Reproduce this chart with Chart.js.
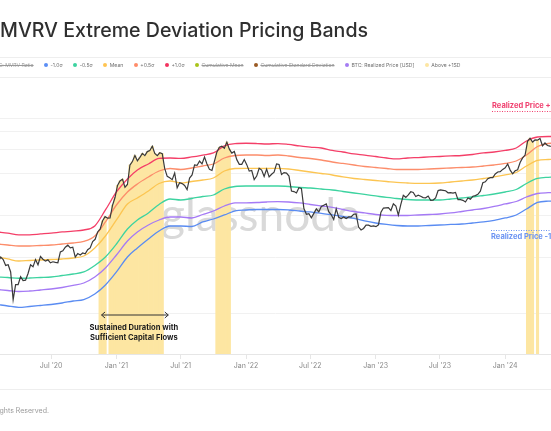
<!DOCTYPE html>
<html>
<head>
<meta charset="utf-8">
<title>MVRV Extreme Deviation Pricing Bands</title>
<script src="https://cdn.jsdelivr.net/npm/chart.js@4.4.1/dist/chart.umd.min.js"></script>
<style>
  html, body { margin: 0; padding: 0; background: #fff; }
  body { position: relative; width: 551px; height: 431px; overflow: hidden; font-family: Inter, "Noto Sans", sans-serif; }
  #chart { position: absolute; left: 0; top: 0; }
  #title { position: absolute; top: 21px; left: 0; font-size: 19.6px; line-height: 19px; font-weight: 500; color: #2f2f2f; white-space: nowrap; }
  .rule { position: absolute; left: 0; width: 551px; height: 1px; background: #eeeeee; }
  #legend { position: absolute; top: 60px; left: 0; height: 9px; display: flex; align-items: center; white-space: nowrap; font-size: 5.1px; color: #6f6f6f; }
  #legend .item { display: flex; align-items: center; margin-right: 10.5px; }
  #legend .dot { width: 4px; height: 4px; border-radius: 50%; margin-right: 2.5px; }
  #legend .off .lbl { text-decoration: line-through; color: #9a9a9a; }
  #footer { position: absolute; right: 502px; top: 406px; font-size: 7px; color: #9a9a9a; white-space: nowrap; }
</style>
</head>
<body>
<canvas id="chart" width="551" height="431"></canvas>
<div id="title"><span id="title-pre">BTC: </span>MVRV Extreme Deviation Pricing Bands</div>
<div class="rule" style="top:57px"></div>
<div id="legend"></div>
<div class="rule" style="top:77px"></div>
<div class="rule" style="top:389px"></div>
<div id="footer">© 2024 Glassnode. All Rights Reserved.</div>
<script>
// Weekly BTC price (USD), one value per Monday starting priceStart
const priceStart = '2020-02-03';
const priceWeekly = [
  // 2020
  9300, 10100, 9700, 8800, 8900, 7900, 5000, 6400, 6400, 7300, 6850, 6900, 7700,
  8900, 8600, 9700, 8900, 10200, 9750, 9450, 9650, 9180, 9350, 9250, 9200, 11000,
  11200, 11900, 12300, 11750, 11900, 10100, 10700, 10450, 10800, 10650, 11400, 11750, 13050,
  13550, 15300, 16000, 18400, 19700, 19200, 19250, 23800, 27000,
  // 2021
  33000, 35500, 36600, 32000, 33500, 46200, 49000, 54000, 49500, 52400, 56000, 54000, 57700,
  58700, 63000, 56000, 54000, 56600, 55800, 43500, 38300, 37400, 36300, 40500, 31700, 34500,
  34000, 33000, 30800, 37300, 39200, 46300, 45900, 49300, 47100, 52700, 47000, 43000, 42200,
  49200, 57400, 62000, 63000, 61000, 67500, 60100, 56300, 57800, 50500, 46700, 46700, 50600,
  // 2022
  46500, 41800, 42200, 36300, 38500, 43800, 42500, 38300, 43200, 38000, 39700, 41000, 47100,
  46600, 39500, 40800, 40400, 38500, 30100, 29800, 29100, 31800, 31400, 22500, 20500, 20700,
  19300, 20800, 22400, 21300, 23300, 23800, 24300, 21400, 20300, 18800, 22400, 19500, 19100,
  19600, 19100, 19600, 19600, 20500, 20600, 16600, 15800, 16200, 17100, 17100, 16800, 16900,
  // 2023
  16700, 17200, 21200, 22700, 22800, 22900, 21800, 24400, 23500, 20200, 24100, 28000, 27100,
  28200, 29700, 29400, 27500, 28100, 27600, 27000, 26900, 27700, 25800, 25900, 26800, 30300,
  30600, 30400, 30200, 29200, 29300, 29100, 29400, 26100, 26100, 25800, 25100, 26800, 26300,
  27600, 27900, 28500, 30000, 34500, 35000, 36900, 37500, 37500, 39900, 41200, 41400, 43000,
  // 2024
  44200, 47000, 42500, 40000, 42000, 42700, 48200, 52000, 54500, 68300, 72000, 67600, 69900,
  69700, 71600, 63500, 66500, 63800, 63100, 62900
];

// Monthly band values (USD), first of each month
const bandMonths = [
  '2020-02', '2020-03', '2020-04', '2020-05', '2020-06', '2020-07', '2020-08', '2020-09', '2020-10', '2020-11', '2020-12',
  '2021-01', '2021-02', '2021-03', '2021-04', '2021-05', '2021-06', '2021-07', '2021-08', '2021-09', '2021-10', '2021-11', '2021-12',
  '2022-01', '2022-02', '2022-03', '2022-04', '2022-05', '2022-06', '2022-07', '2022-08', '2022-09', '2022-10', '2022-11', '2022-12',
  '2023-01', '2023-02', '2023-03', '2023-04', '2023-05', '2023-06', '2023-07', '2023-08', '2023-09', '2023-10', '2023-11', '2023-12',
  '2024-01', '2024-02', '2024-03', '2024-04', '2024-05', '2024-06'
];
const plusOneSd = [
  15300, 15000, 14600, 14600, 14800, 15000, 15300, 15500, 15800, 16900, 22000,
  29600, 36700, 42600, 47000, 51500, 51900, 51500, 52800, 54500, 56400, 63300, 65900,
  66200, 65900, 65400, 65900, 64900, 63300, 62200, 61200, 58800, 57300, 55500, 54500,
  53200, 51900, 51100, 51900, 52300, 52800, 53200, 53700, 54100, 55000, 56400, 57300,
  58800, 61200, 68700, 73400, 74000, 74000
];
const plusHalfSd = [
  12540, 12330, 12130, 12130, 12230, 12330, 12540, 12750, 13070, 14310, 18040,
  23880, 29600, 33790, 37930, 41880, 43640, 42920, 44000, 45480, 47000, 51900, 54080,
  54540, 54540, 54080, 54540, 53650, 52340, 51470, 50220, 48590, 47410, 46240, 45110,
  44370, 43640, 42920, 42920, 42920, 43280, 43640, 44000, 44370, 44730, 45480, 46240,
  47410, 49400, 54540, 62760, 65940, 66490
];
const meanBand = [
  10120, 9790, 9470, 9550, 9630, 9710, 9790, 9950, 10280, 11740, 14310,
  18640, 24280, 26810, 30100, 34070, 35500, 34350, 35210, 36090, 37300, 41880, 43640,
  43780, 43780, 43640, 43780, 43280, 42220, 41190, 40180, 39200, 37930, 36990, 36390,
  35790, 35210, 34640, 34350, 34180, 34180, 34350, 34920, 35500, 36090, 36990, 37930,
  39200, 40850, 45480, 49810, 50630, 51050
];
const minusHalfSd = [
  7270, 7210, 7120, 7150, 7210, 7270, 7450, 7640, 7900, 8790, 10120,
  12540, 16060, 18640, 20930, 24080, 26370, 25940, 26590, 27480, 28170, 31100, 32420,
  32680, 32680, 32680, 32680, 32420, 31890, 31620, 31100, 30600, 29850, 29120, 28410,
  27720, 27040, 26590, 26150, 25940, 25940, 25940, 26370, 26810, 27250, 27940, 28640,
  29600, 30850, 34070, 36990, 37740, 37930
];
const realizedPrice = [
  5915, 5817, 5721, 5769, 5866, 5964, 6113, 6319, 6585, 7270, 8436,
  10460, 13180, 15290, 17160, 18640, 19590, 19590, 19270, 20410, 21630, 23490, 24690,
  24770, 24890, 25100, 25220, 25100, 24690, 24080, 23490, 22920, 22170, 21450, 20930,
  20410, 20150, 20080, 20080, 20250, 20410, 20580, 20930, 21450, 21990, 22540, 23300,
  24280, 25300, 27250, 28870, 29260, 29360
];
const minusOneSd = [
  4617, 4504, 4408, 4467, 4541, 4617, 4732, 4892, 5012, 5490, 6371,
  7900, 10120, 11740, 13620, 15540, 16880, 16880, 16740, 18040, 18950, 20250, 21630,
  21990, 22170, 22170, 22170, 21990, 21630, 21280, 20760, 20250, 19750, 19110, 18340,
  17740, 17310, 17020, 16880, 16880, 17020, 17160, 17310, 17450, 17740, 18040, 18490,
  19270, 20250, 22360, 24890, 25430, 25510
];

// Weeks where price sat above the +1 SD band
const aboveRanges = [
  ['2020-11-16', '2020-11-30'],
  ['2020-12-14', '2021-05-10'],
  ['2021-10-11', '2021-11-15'],
  ['2024-03-04', '2024-03-18'],
  ['2024-04-01', '2024-04-01']
];

const tickDates = ['2020-07-01', '2021-01-01', '2021-07-01', '2022-01-01', '2022-07-01', '2023-01-01', '2023-07-01', '2024-01-01'];
const tickLabels = ["Jul '20", "Jan '21", "Jul '21", "Jan '22", "Jul '22", "Jan '23", "Jul '23", "Jan '24"];
const yGridValues = [4000, 10000, 20000, 40000, 60000, 80000, 100000];
const viewStart = '2020-02-08';
const viewEnd = '2024-05-09';
const yMin = 2038;
const yMax = 188200;

const annotationFrom = '2020-11-20';
const annotationTo = '2021-05-27';
const annotationLines = ['Sustained Duration with', 'Sufficient Capital Flows'];

// Legend
const legendLabels = ['BTC: MVRV Ratio', '-1.0σ', '-0.5σ', 'Mean', '+0.5σ', '+1.0σ', 'Cumulative Mean', 'Cumulative Standard Deviation', 'BTC: Realized Price [USD]', 'Above +1SD'];
const legendColors = ['#8a8a8a', '#5b8ef5', '#3dd3a0', '#ffc452', '#ff8c69', '#f2335f', '#a9c41a', '#9a5a24', '#a47cf3', '#fde6a2'];
const legendHidden = [true, false, false, false, false, false, true, true, false, false];

const DAY = 86400000;
const T0 = Date.UTC(2020, 0, 1);
function dayOf(s) {
  const p = s.split('-').map(Number);
  return (Date.UTC(p[0], p[1] - 1, p[2] || 1) - T0) / DAY;
}

// title: push the "BTC: " prefix off the left edge
const titleEl = document.getElementById('title');
titleEl.style.left = -document.getElementById('title-pre').getBoundingClientRect().width + 'px';

// legend
const legendEl = document.getElementById('legend');
legendLabels.forEach((label, i) => {
  const item = document.createElement('div');
  item.className = 'item' + (legendHidden[i] ? ' off' : '');
  const dot = document.createElement('span');
  dot.className = 'dot';
  dot.style.background = legendColors[i];
  const lbl = document.createElement('span');
  lbl.className = 'lbl';
  lbl.textContent = label;
  item.appendChild(dot);
  item.appendChild(lbl);
  legendEl.appendChild(item);
});
const secondDot = legendEl.children[1].querySelector('.dot').getBoundingClientRect();
legendEl.style.left = (46 - (secondDot.left + 2)) + 'px';

// data points
const priceX0 = dayOf(priceStart);
const pricePoints = priceWeekly.map((v, i) => ({ x: priceX0 + 7 * i, y: v }));
const bandX = bandMonths.map(m => dayOf(m));
const toBand = vals => vals.map((v, i) => ({ x: bandX[i], y: v }));
const abovePoints = pricePoints.filter(p =>
  aboveRanges.some(r => p.x >= dayOf(r[0]) && p.x <= dayOf(r[1])));

function bandLine(label, vals, color) {
  return {
    type: 'line', label, data: toBand(vals), borderColor: color, borderWidth: 1.3,
    pointRadius: 0, cubicInterpolationMode: 'monotone', order: 1
  };
}

const overlay = {
  id: 'overlay',
  beforeDatasetsDraw(chart) {
    const { ctx, chartArea: a } = chart;
    ctx.save();
    ctx.font = '46px Lato';
    ctx.fillStyle = '#d9d9d9';
    ctx.textBaseline = 'alphabetic';
    ctx.fillText('glassnode', a.left + 161, 231);
    ctx.restore();
  },
  afterDatasetsDraw(chart) {
    const { ctx, chartArea: a, scales } = chart;
    const x1 = scales.x.getPixelForValue(dayOf(annotationFrom));
    const x2 = scales.x.getPixelForValue(dayOf(annotationTo));
    const y = a.bottom - 39;
    ctx.save();
    ctx.strokeStyle = '#333';
    ctx.lineWidth = 1;
    ctx.beginPath();
    ctx.moveTo(x1, y); ctx.lineTo(x2, y);
    ctx.moveTo(x1 + 3.5, y - 3); ctx.lineTo(x1, y); ctx.lineTo(x1 + 3.5, y + 3);
    ctx.moveTo(x2 - 3.5, y - 3); ctx.lineTo(x2, y); ctx.lineTo(x2 - 3.5, y + 3);
    ctx.stroke();
    ctx.fillStyle = '#1c1c1c';
    ctx.font = 'bold 7.6px Inter';
    ctx.textAlign = 'center';
    ctx.textBaseline = 'middle';
    const cx = (x1 + x2) / 2 - 1;
    ctx.fillText(annotationLines[0], cx, a.bottom - 26);
    ctx.fillText(annotationLines[1], cx, a.bottom - 16);

    // realized price tags on the right
    ctx.textAlign = 'left';
    ctx.font = 'bold 7.5px Inter';
    ctx.fillStyle = '#f0406f';
    ctx.fillText('Realized Price +1σ', a.right - 59, 106);
    ctx.fillStyle = '#6b93f2';
    ctx.fillText('Realized Price -1σ', a.right - 60, 237);
    ctx.setLineDash([1, 1.5]);
    ctx.strokeStyle = '#f0406f';
    ctx.beginPath(); ctx.moveTo(a.right - 59, 111.5); ctx.lineTo(a.right, 111.5); ctx.stroke();
    ctx.strokeStyle = '#6b93f2';
    ctx.beginPath(); ctx.moveTo(a.right - 60, 230.5); ctx.lineTo(a.right, 230.5); ctx.stroke();
    ctx.restore();
  }
};

new Chart(document.getElementById('chart'), {
  type: 'line',
  data: {
    datasets: [
      {
        type: 'line', label: 'BTC Price', data: pricePoints, borderColor: '#3a3a3a',
        borderWidth: 1.2, pointRadius: 0, tension: 0, order: 0
      },
      bandLine('+1.0σ', plusOneSd, '#f43f68'),
      bandLine('+0.5σ', plusHalfSd, '#fc8d6b'),
      bandLine('Mean', meanBand, '#fcc552'),
      bandLine('-0.5σ', minusHalfSd, '#3dd3a0'),
      bandLine('BTC: Realized Price [USD]', realizedPrice, '#a57af5'),
      bandLine('-1.0σ', minusOneSd, '#5a8cf2'),
      {
        type: 'bar', label: 'Above +1SD', data: abovePoints, backgroundColor: '#fde6a2',
        borderWidth: 0, barPercentage: 1, categoryPercentage: 1, order: 2
      }
    ]
  },
  options: {
    responsive: false,
    animation: false,
    devicePixelRatio: 1,
    layout: { padding: { top: 80, bottom: 47, left: 0, right: 0 } },
    plugins: { legend: { display: false }, tooltip: { enabled: false } },
    scales: {
      x: {
        type: 'linear',
        offset: false,
        min: dayOf(viewStart),
        max: dayOf(viewEnd),
        afterBuildTicks: s => { s.ticks = tickDates.map(d => ({ value: dayOf(d) })); },
        afterFit: s => { s.height = 30; },
        ticks: {
          autoSkip: false, maxRotation: 0, padding: 3, color: '#8a8a8a',
          font: { family: 'Inter', size: 7 },
          callback: (v, i) => tickLabels[i]
        },
        grid: { offset: false, drawOnChartArea: false, drawTicks: true, tickLength: 5, color: '#e6e6e6' },
        border: { display: true, color: '#e6e6e6' }
      },
      y: {
        type: 'logarithmic',
        min: yMin,
        max: yMax,
        afterBuildTicks: s => { s.ticks = yGridValues.map(v => ({ value: v })); },
        afterFit: s => { s.width = 0; },
        ticks: { display: false },
        grid: { color: '#f1f1f1', drawTicks: false },
        border: { display: false }
      }
    }
  },
  plugins: [overlay]
});
</script>
</body>
</html>
